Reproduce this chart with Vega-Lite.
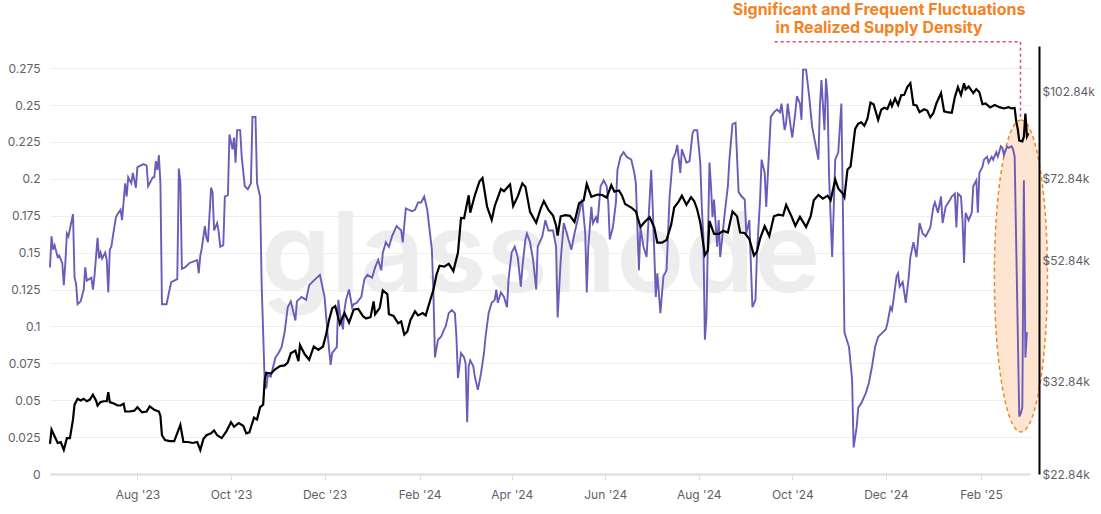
{
  "$schema": "https://vega.github.io/schema/vega-lite/v6.json",
  "width": 980,
  "height": 428,
  "autosize": {"type": "none"},
  "padding": {"left": 50, "top": 46, "right": 71, "bottom": 40},
  "background": "white",
  "config": {
    "view": {"stroke": null},
    "font": "Inter",
    "axis": {"labelFont": "Inter", "labelFontSize": 12, "labelColor": "#5f5f6a", "titleFont": "Inter"}
  },
  "datasets": {
    "ps": [
      {"d":"2023-06-05","v":0.140},{"d":"2023-06-06","v":0.161},{"d":"2023-06-07","v":0.152},{"d":"2023-06-08","v":0.155},{"d":"2023-06-10","v":0.147},{"d":"2023-06-11","v":0.148},{"d":"2023-06-13","v":0.143},{"d":"2023-06-14","v":0.128},{"d":"2023-06-15","v":0.143},{"d":"2023-06-16","v":0.163},{"d":"2023-06-17","v":0.161},{"d":"2023-06-20","v":0.176},{"d":"2023-06-21","v":0.133},{"d":"2023-06-22","v":0.129},{"d":"2023-06-23","v":0.115},{"d":"2023-06-25","v":0.117},{"d":"2023-06-26","v":0.121},{"d":"2023-06-27","v":0.125},{"d":"2023-06-28","v":0.140},{"d":"2023-06-29","v":0.131},
      {"d":"2023-07-02","v":0.133},{"d":"2023-07-03","v":0.125},{"d":"2023-07-04","v":0.134},{"d":"2023-07-06","v":0.160},{"d":"2023-07-07","v":0.146},{"d":"2023-07-08","v":0.150},{"d":"2023-07-09","v":0.146},{"d":"2023-07-11","v":0.150},{"d":"2023-07-12","v":0.145},{"d":"2023-07-13","v":0.123},{"d":"2023-07-14","v":0.152},{"d":"2023-07-15","v":0.154},{"d":"2023-07-16","v":0.161},{"d":"2023-07-18","v":0.174},{"d":"2023-07-19","v":0.176},{"d":"2023-07-21","v":0.179},{"d":"2023-07-22","v":0.172},{"d":"2023-07-24","v":0.197},{"d":"2023-07-25","v":0.188},{"d":"2023-07-26","v":0.201},{"d":"2023-07-28","v":0.197},{"d":"2023-07-29","v":0.204},{"d":"2023-07-31","v":0.194},
      {"d":"2023-08-01","v":0.208},{"d":"2023-08-05","v":0.210},{"d":"2023-08-07","v":0.209},{"d":"2023-08-08","v":0.195},{"d":"2023-08-11","v":0.201},{"d":"2023-08-12","v":0.201},{"d":"2023-08-13","v":0.212},{"d":"2023-08-14","v":0.206},{"d":"2023-08-15","v":0.216},{"d":"2023-08-16","v":0.197},{"d":"2023-08-17","v":0.115},{"d":"2023-08-20","v":0.115},{"d":"2023-08-22","v":0.125},{"d":"2023-08-23","v":0.130},{"d":"2023-08-27","v":0.132},{"d":"2023-08-28","v":0.207},{"d":"2023-08-29","v":0.198},{"d":"2023-08-30","v":0.139},
      {"d":"2023-09-01","v":0.140},{"d":"2023-09-04","v":0.143},{"d":"2023-09-09","v":0.145},{"d":"2023-09-10","v":0.136},{"d":"2023-09-11","v":0.148},{"d":"2023-09-12","v":0.153},{"d":"2023-09-14","v":0.168},{"d":"2023-09-15","v":0.160},{"d":"2023-09-16","v":0.157},{"d":"2023-09-18","v":0.194},{"d":"2023-09-19","v":0.191},{"d":"2023-09-20","v":0.165},{"d":"2023-09-22","v":0.170},{"d":"2023-09-23","v":0.164},{"d":"2023-09-24","v":0.154},{"d":"2023-09-26","v":0.155},{"d":"2023-09-27","v":0.188},{"d":"2023-09-29","v":0.189},{"d":"2023-09-30","v":0.230},
      {"d":"2023-10-01","v":0.225},{"d":"2023-10-02","v":0.220},{"d":"2023-10-03","v":0.228},{"d":"2023-10-04","v":0.211},{"d":"2023-10-05","v":0.233},{"d":"2023-10-07","v":0.233},{"d":"2023-10-08","v":0.215},{"d":"2023-10-10","v":0.195},{"d":"2023-10-12","v":0.193},{"d":"2023-10-14","v":0.197},{"d":"2023-10-15","v":0.242},{"d":"2023-10-17","v":0.242},{"d":"2023-10-18","v":0.197},{"d":"2023-10-20","v":0.188},{"d":"2023-10-21","v":0.129},{"d":"2023-10-23","v":0.062},{"d":"2023-10-24","v":0.058},{"d":"2023-10-25","v":0.067},{"d":"2023-10-27","v":0.066},{"d":"2023-10-30","v":0.079},
      {"d":"2023-11-01","v":0.082},{"d":"2023-11-03","v":0.086},{"d":"2023-11-05","v":0.096},{"d":"2023-11-07","v":0.113},{"d":"2023-11-09","v":0.117},{"d":"2023-11-12","v":0.104},{"d":"2023-11-13","v":0.117},{"d":"2023-11-16","v":0.120},{"d":"2023-11-19","v":0.118},{"d":"2023-11-21","v":0.128},{"d":"2023-11-23","v":0.130},{"d":"2023-11-25","v":0.132},{"d":"2023-11-28","v":0.135},
      {"d":"2023-12-01","v":0.120},{"d":"2023-12-03","v":0.095},{"d":"2023-12-05","v":0.074},{"d":"2023-12-06","v":0.082},{"d":"2023-12-09","v":0.086},{"d":"2023-12-10","v":0.118},{"d":"2023-12-11","v":0.109},{"d":"2023-12-13","v":0.098},{"d":"2023-12-14","v":0.111},{"d":"2023-12-15","v":0.118},{"d":"2023-12-17","v":0.125},{"d":"2023-12-19","v":0.113},{"d":"2023-12-20","v":0.115},{"d":"2023-12-22","v":0.116},{"d":"2023-12-25","v":0.120},{"d":"2023-12-27","v":0.132},{"d":"2023-12-29","v":0.135},
      {"d":"2024-01-01","v":0.133},{"d":"2024-01-03","v":0.140},{"d":"2024-01-05","v":0.145},{"d":"2024-01-07","v":0.138},{"d":"2024-01-08","v":0.150},{"d":"2024-01-10","v":0.157},{"d":"2024-01-12","v":0.154},{"d":"2024-01-14","v":0.161},{"d":"2024-01-17","v":0.168},{"d":"2024-01-20","v":0.165},{"d":"2024-01-21","v":0.157},{"d":"2024-01-23","v":0.180},{"d":"2024-01-27","v":0.178},{"d":"2024-01-29","v":0.179},{"d":"2024-01-31","v":0.184},
      {"d":"2024-02-02","v":0.184},{"d":"2024-02-04","v":0.188},{"d":"2024-02-06","v":0.179},{"d":"2024-02-09","v":0.152},{"d":"2024-02-10","v":0.123},{"d":"2024-02-11","v":0.079},{"d":"2024-02-13","v":0.091},{"d":"2024-02-15","v":0.093},{"d":"2024-02-17","v":0.098},{"d":"2024-02-18","v":0.100},{"d":"2024-02-20","v":0.109},{"d":"2024-02-22","v":0.111},{"d":"2024-02-24","v":0.109},{"d":"2024-02-25","v":0.093},{"d":"2024-02-26","v":0.065},{"d":"2024-02-28","v":0.082},
      {"d":"2024-03-01","v":0.079},{"d":"2024-03-02","v":0.075},{"d":"2024-03-03","v":0.035},{"d":"2024-03-04","v":0.073},{"d":"2024-03-05","v":0.077},{"d":"2024-03-07","v":0.073},{"d":"2024-03-08","v":0.066},{"d":"2024-03-10","v":0.057},{"d":"2024-03-12","v":0.068},{"d":"2024-03-14","v":0.082},{"d":"2024-03-15","v":0.093},{"d":"2024-03-17","v":0.109},{"d":"2024-03-19","v":0.116},{"d":"2024-03-21","v":0.118},{"d":"2024-03-22","v":0.125},{"d":"2024-03-23","v":0.116},{"d":"2024-03-25","v":0.123},{"d":"2024-03-27","v":0.120},{"d":"2024-03-29","v":0.113},{"d":"2024-03-30","v":0.132},
      {"d":"2024-04-01","v":0.150},{"d":"2024-04-03","v":0.154},{"d":"2024-04-05","v":0.147},{"d":"2024-04-07","v":0.127},{"d":"2024-04-08","v":0.140},{"d":"2024-04-10","v":0.159},{"d":"2024-04-11","v":0.163},{"d":"2024-04-13","v":0.157},{"d":"2024-04-15","v":0.145},{"d":"2024-04-17","v":0.125},{"d":"2024-04-18","v":0.154},{"d":"2024-04-21","v":0.161},{"d":"2024-04-23","v":0.172},{"d":"2024-04-25","v":0.165},{"d":"2024-04-28","v":0.165},{"d":"2024-04-30","v":0.154},
      {"d":"2024-05-01","v":0.106},{"d":"2024-05-03","v":0.145},{"d":"2024-05-05","v":0.170},{"d":"2024-05-07","v":0.163},{"d":"2024-05-08","v":0.159},{"d":"2024-05-10","v":0.152},{"d":"2024-05-12","v":0.163},{"d":"2024-05-14","v":0.172},{"d":"2024-05-17","v":0.186},{"d":"2024-05-19","v":0.163},{"d":"2024-05-20","v":0.123},{"d":"2024-05-21","v":0.154},{"d":"2024-05-23","v":0.181},{"d":"2024-05-24","v":0.170},{"d":"2024-05-26","v":0.174},{"d":"2024-05-27","v":0.170},{"d":"2024-05-29","v":0.195},{"d":"2024-05-31","v":0.199},
      {"d":"2024-06-02","v":0.195},{"d":"2024-06-03","v":0.184},{"d":"2024-06-04","v":0.159},{"d":"2024-06-06","v":0.167},{"d":"2024-06-08","v":0.184},{"d":"2024-06-09","v":0.206},{"d":"2024-06-11","v":0.215},{"d":"2024-06-13","v":0.218},{"d":"2024-06-15","v":0.215},{"d":"2024-06-18","v":0.213},{"d":"2024-06-20","v":0.204},{"d":"2024-06-21","v":0.197},{"d":"2024-06-23","v":0.138},{"d":"2024-06-24","v":0.167},{"d":"2024-06-26","v":0.154},{"d":"2024-06-28","v":0.147},{"d":"2024-06-29","v":0.167},
      {"d":"2024-07-01","v":0.206},{"d":"2024-07-02","v":0.181},{"d":"2024-07-04","v":0.120},{"d":"2024-07-05","v":0.136},{"d":"2024-07-07","v":0.109},{"d":"2024-07-09","v":0.134},{"d":"2024-07-11","v":0.138},{"d":"2024-07-13","v":0.188},{"d":"2024-07-15","v":0.213},{"d":"2024-07-17","v":0.218},{"d":"2024-07-18","v":0.223},{"d":"2024-07-20","v":0.204},{"d":"2024-07-21","v":0.220},{"d":"2024-07-24","v":0.211},{"d":"2024-07-26","v":0.212},{"d":"2024-07-28","v":0.231},{"d":"2024-07-29","v":0.233},{"d":"2024-07-31","v":0.233},
      {"d":"2024-08-02","v":0.211},{"d":"2024-08-03","v":0.181},{"d":"2024-08-04","v":0.161},{"d":"2024-08-05","v":0.091},{"d":"2024-08-06","v":0.106},{"d":"2024-08-08","v":0.211},{"d":"2024-08-09","v":0.195},{"d":"2024-08-10","v":0.174},{"d":"2024-08-11","v":0.186},{"d":"2024-08-13","v":0.154},{"d":"2024-08-14","v":0.172},{"d":"2024-08-15","v":0.147},{"d":"2024-08-17","v":0.167},{"d":"2024-08-18","v":0.177},{"d":"2024-08-20","v":0.195},{"d":"2024-08-21","v":0.213},{"d":"2024-08-23","v":0.237},{"d":"2024-08-25","v":0.238},{"d":"2024-08-27","v":0.191},{"d":"2024-08-29","v":0.188},{"d":"2024-08-31","v":0.186},
      {"d":"2024-09-01","v":0.163},{"d":"2024-09-03","v":0.172},{"d":"2024-09-05","v":0.113},{"d":"2024-09-07","v":0.118},{"d":"2024-09-08","v":0.150},{"d":"2024-09-10","v":0.186},{"d":"2024-09-11","v":0.213},{"d":"2024-09-13","v":0.204},{"d":"2024-09-14","v":0.181},{"d":"2024-09-17","v":0.242},{"d":"2024-09-19","v":0.245},{"d":"2024-09-21","v":0.247},{"d":"2024-09-23","v":0.245},{"d":"2024-09-24","v":0.251},{"d":"2024-09-26","v":0.233},{"d":"2024-09-27","v":0.238},{"d":"2024-09-28","v":0.251},{"d":"2024-09-30","v":0.235},
      {"d":"2024-10-01","v":0.228},{"d":"2024-10-03","v":0.245},{"d":"2024-10-04","v":0.256},{"d":"2024-10-06","v":0.251},{"d":"2024-10-07","v":0.240},{"d":"2024-10-08","v":0.274},{"d":"2024-10-10","v":0.274},{"d":"2024-10-12","v":0.256},{"d":"2024-10-13","v":0.245},{"d":"2024-10-14","v":0.235},{"d":"2024-10-16","v":0.224},{"d":"2024-10-18","v":0.213},{"d":"2024-10-19","v":0.249},{"d":"2024-10-20","v":0.267},{"d":"2024-10-22","v":0.233},{"d":"2024-10-23","v":0.268},{"d":"2024-10-24","v":0.254},{"d":"2024-10-25","v":0.201},{"d":"2024-10-27","v":0.147},{"d":"2024-10-28","v":0.179},{"d":"2024-10-29","v":0.213},{"d":"2024-10-31","v":0.218},
      {"d":"2024-11-01","v":0.235},{"d":"2024-11-02","v":0.251},{"d":"2024-11-03","v":0.180},{"d":"2024-11-04","v":0.096},{"d":"2024-11-07","v":0.086},{"d":"2024-11-09","v":0.064},{"d":"2024-11-10","v":0.018},{"d":"2024-11-12","v":0.032},{"d":"2024-11-13","v":0.045},{"d":"2024-11-15","v":0.048},{"d":"2024-11-18","v":0.055},{"d":"2024-11-20","v":0.062},{"d":"2024-11-22","v":0.073},{"d":"2024-11-24","v":0.086},{"d":"2024-11-26","v":0.093},{"d":"2024-11-29","v":0.096},
      {"d":"2024-12-01","v":0.098},{"d":"2024-12-02","v":0.102},{"d":"2024-12-04","v":0.113},{"d":"2024-12-05","v":0.111},{"d":"2024-12-06","v":0.118},{"d":"2024-12-08","v":0.134},{"d":"2024-12-09","v":0.136},{"d":"2024-12-10","v":0.127},{"d":"2024-12-12","v":0.130},{"d":"2024-12-14","v":0.116},{"d":"2024-12-16","v":0.134},{"d":"2024-12-17","v":0.147},{"d":"2024-12-19","v":0.157},{"d":"2024-12-21","v":0.147},{"d":"2024-12-23","v":0.170},{"d":"2024-12-25","v":0.163},{"d":"2024-12-27","v":0.161},{"d":"2024-12-30","v":0.167},
      {"d":"2025-01-01","v":0.181},{"d":"2025-01-02","v":0.184},{"d":"2025-01-04","v":0.177},{"d":"2025-01-06","v":0.188},{"d":"2025-01-07","v":0.170},{"d":"2025-01-09","v":0.181},{"d":"2025-01-12","v":0.186},{"d":"2025-01-13","v":0.188},{"d":"2025-01-15","v":0.190},{"d":"2025-01-16","v":0.167},{"d":"2025-01-17","v":0.190},{"d":"2025-01-19","v":0.188},{"d":"2025-01-20","v":0.172},{"d":"2025-01-21","v":0.143},{"d":"2025-01-22","v":0.177},{"d":"2025-01-24","v":0.172},{"d":"2025-01-26","v":0.177},{"d":"2025-01-27","v":0.195},{"d":"2025-01-29","v":0.199},{"d":"2025-01-30","v":0.177},{"d":"2025-01-31","v":0.204},
      {"d":"2025-02-02","v":0.208},{"d":"2025-02-03","v":0.213},{"d":"2025-02-05","v":0.215},{"d":"2025-02-06","v":0.211},{"d":"2025-02-08","v":0.215},{"d":"2025-02-09","v":0.213},{"d":"2025-02-11","v":0.218},{"d":"2025-02-12","v":0.215},{"d":"2025-02-14","v":0.222},{"d":"2025-02-15","v":0.221},{"d":"2025-02-16","v":0.216},{"d":"2025-02-18","v":0.222},{"d":"2025-02-19","v":0.221},{"d":"2025-02-21","v":0.222},{"d":"2025-02-22","v":0.220},{"d":"2025-02-23","v":0.215},{"d":"2025-02-26","v":0.039},{"d":"2025-02-27","v":0.041},{"d":"2025-02-28","v":0.045},{"d":"2025-03-01","v":0.199},{"d":"2025-03-02","v":0.079},{"d":"2025-03-03","v":0.096}
    ],
    "bk": [
      {"d":"2023-06-05","p":25700},{"d":"2023-06-06","p":27200},{"d":"2023-06-08","p":26500},{"d":"2023-06-10","p":25800},{"d":"2023-06-12","p":25900},{"d":"2023-06-14","p":25100},{"d":"2023-06-16","p":26300},{"d":"2023-06-18","p":26300},{"d":"2023-06-20","p":28300},{"d":"2023-06-21","p":30000},{"d":"2023-06-23","p":30700},{"d":"2023-06-25","p":30500},{"d":"2023-06-27","p":30700},{"d":"2023-06-29","p":30400},
      {"d":"2023-07-01","p":30600},{"d":"2023-07-03","p":31200},{"d":"2023-07-05","p":30500},{"d":"2023-07-06","p":29900},{"d":"2023-07-08","p":30300},{"d":"2023-07-10","p":30400},{"d":"2023-07-12","p":30400},{"d":"2023-07-13","p":31500},{"d":"2023-07-14","p":30300},{"d":"2023-07-17","p":30100},{"d":"2023-07-19","p":29900},{"d":"2023-07-21","p":29900},{"d":"2023-07-23","p":30100},{"d":"2023-07-24","p":29200},{"d":"2023-07-27","p":29200},{"d":"2023-07-30","p":29300},
      {"d":"2023-08-01","p":29700},{"d":"2023-08-04","p":29100},{"d":"2023-08-07","p":29200},{"d":"2023-08-09","p":29800},{"d":"2023-08-12","p":29400},{"d":"2023-08-15","p":29200},{"d":"2023-08-16","p":28700},{"d":"2023-08-17","p":26600},{"d":"2023-08-19","p":26100},{"d":"2023-08-22","p":26000},{"d":"2023-08-25","p":26000},{"d":"2023-08-29","p":27700},{"d":"2023-08-31","p":25900},
      {"d":"2023-09-03","p":25900},{"d":"2023-09-06","p":25800},{"d":"2023-09-09","p":25900},{"d":"2023-09-11","p":25100},{"d":"2023-09-13","p":26200},{"d":"2023-09-15","p":26600},{"d":"2023-09-18","p":26800},{"d":"2023-09-20","p":27100},{"d":"2023-09-22","p":26600},{"d":"2023-09-25","p":26300},{"d":"2023-09-28","p":27000},
      {"d":"2023-10-01","p":28000},{"d":"2023-10-03","p":27500},{"d":"2023-10-06","p":27900},{"d":"2023-10-09","p":27600},{"d":"2023-10-11","p":26800},{"d":"2023-10-13","p":26900},{"d":"2023-10-16","p":28500},{"d":"2023-10-18","p":28300},{"d":"2023-10-20","p":29700},{"d":"2023-10-22","p":30000},{"d":"2023-10-23","p":33000},{"d":"2023-10-24","p":34000},{"d":"2023-10-27","p":33900},{"d":"2023-10-30","p":34500},
      {"d":"2023-11-02","p":34900},{"d":"2023-11-05","p":35000},{"d":"2023-11-07","p":35400},{"d":"2023-11-09","p":36700},{"d":"2023-11-12","p":37100},{"d":"2023-11-14","p":35600},{"d":"2023-11-15","p":37900},{"d":"2023-11-18","p":36600},{"d":"2023-11-21","p":35800},{"d":"2023-11-24","p":37700},{"d":"2023-11-27","p":37200},{"d":"2023-11-30","p":37700},
      {"d":"2023-12-02","p":39500},{"d":"2023-12-04","p":41900},{"d":"2023-12-06","p":43800},{"d":"2023-12-08","p":44200},{"d":"2023-12-11","p":41200},{"d":"2023-12-14","p":43000},{"d":"2023-12-17","p":41400},{"d":"2023-12-20","p":43600},{"d":"2023-12-23","p":43700},{"d":"2023-12-26","p":42500},{"d":"2023-12-28","p":42100},{"d":"2023-12-31","p":42300},
      {"d":"2024-01-02","p":45000},{"d":"2024-01-03","p":42800},{"d":"2024-01-06","p":43900},{"d":"2024-01-08","p":47000},{"d":"2024-01-11","p":46300},{"d":"2024-01-12","p":42800},{"d":"2024-01-15","p":42500},{"d":"2024-01-18","p":41300},{"d":"2024-01-20","p":41600},{"d":"2024-01-22","p":39500},{"d":"2024-01-24","p":40000},{"d":"2024-01-26","p":41800},{"d":"2024-01-29","p":43300},{"d":"2024-01-31","p":42600},
      {"d":"2024-02-03","p":43000},{"d":"2024-02-05","p":42600},{"d":"2024-02-08","p":45300},{"d":"2024-02-10","p":47100},{"d":"2024-02-12","p":50000},{"d":"2024-02-14","p":51800},{"d":"2024-02-17","p":51600},{"d":"2024-02-20","p":52200},{"d":"2024-02-23","p":50700},{"d":"2024-02-26","p":54500},{"d":"2024-02-28","p":62500},
      {"d":"2024-03-01","p":62400},{"d":"2024-03-04","p":68300},{"d":"2024-03-05","p":63800},{"d":"2024-03-08","p":68300},{"d":"2024-03-11","p":72100},{"d":"2024-03-13","p":73100},{"d":"2024-03-16","p":65300},{"d":"2024-03-19","p":62000},{"d":"2024-03-21","p":65500},{"d":"2024-03-25","p":70000},{"d":"2024-03-27","p":69400},{"d":"2024-03-31","p":71300},
      {"d":"2024-04-02","p":65500},{"d":"2024-04-05","p":68000},{"d":"2024-04-08","p":71600},{"d":"2024-04-10","p":70600},{"d":"2024-04-13","p":64000},{"d":"2024-04-17","p":61300},{"d":"2024-04-20","p":64900},{"d":"2024-04-22","p":66800},{"d":"2024-04-25","p":64500},{"d":"2024-04-28","p":63100},{"d":"2024-04-30","p":60600},
      {"d":"2024-05-01","p":58300},{"d":"2024-05-03","p":62900},{"d":"2024-05-06","p":63200},{"d":"2024-05-09","p":63000},{"d":"2024-05-12","p":61500},{"d":"2024-05-15","p":66200},{"d":"2024-05-18","p":67000},{"d":"2024-05-20","p":71400},{"d":"2024-05-23","p":67900},{"d":"2024-05-27","p":68500},{"d":"2024-05-30","p":68400},
      {"d":"2024-06-02","p":67700},{"d":"2024-06-05","p":71100},{"d":"2024-06-07","p":69300},{"d":"2024-06-10","p":69600},{"d":"2024-06-12","p":68200},{"d":"2024-06-14","p":66000},{"d":"2024-06-18","p":65100},{"d":"2024-06-21","p":64100},{"d":"2024-06-24","p":60300},{"d":"2024-06-27","p":61600},{"d":"2024-06-30","p":62700},
      {"d":"2024-07-03","p":60200},{"d":"2024-07-05","p":56700},{"d":"2024-07-08","p":56700},{"d":"2024-07-11","p":57300},{"d":"2024-07-14","p":60800},{"d":"2024-07-16","p":65100},{"d":"2024-07-19","p":66700},{"d":"2024-07-21","p":68200},{"d":"2024-07-24","p":65800},{"d":"2024-07-27","p":67800},{"d":"2024-07-29","p":66800},{"d":"2024-07-31","p":64600},
      {"d":"2024-08-02","p":61400},{"d":"2024-08-05","p":54000},{"d":"2024-08-07","p":55000},{"d":"2024-08-08","p":61700},{"d":"2024-08-11","p":58700},{"d":"2024-08-14","p":58700},{"d":"2024-08-17","p":59400},{"d":"2024-08-20","p":59000},{"d":"2024-08-23","p":64100},{"d":"2024-08-26","p":62900},{"d":"2024-08-28","p":59000},{"d":"2024-08-31","p":58900},
      {"d":"2024-09-03","p":57500},{"d":"2024-09-06","p":53900},{"d":"2024-09-08","p":54800},{"d":"2024-09-10","p":57600},{"d":"2024-09-13","p":60500},{"d":"2024-09-16","p":58200},{"d":"2024-09-19","p":62900},{"d":"2024-09-22","p":63300},{"d":"2024-09-25","p":63100},{"d":"2024-09-27","p":65800},{"d":"2024-09-30","p":63300},
      {"d":"2024-10-03","p":60600},{"d":"2024-10-06","p":62800},{"d":"2024-10-10","p":60300},{"d":"2024-10-13","p":62900},{"d":"2024-10-15","p":67000},{"d":"2024-10-18","p":68400},{"d":"2024-10-21","p":67400},{"d":"2024-10-24","p":68200},{"d":"2024-10-26","p":67000},{"d":"2024-10-29","p":72700},{"d":"2024-10-31","p":70200},
      {"d":"2024-11-03","p":68700},{"d":"2024-11-04","p":67800},{"d":"2024-11-06","p":75600},{"d":"2024-11-08","p":76500},{"d":"2024-11-11","p":88700},{"d":"2024-11-13","p":90500},{"d":"2024-11-15","p":91000},{"d":"2024-11-17","p":89800},{"d":"2024-11-19","p":92300},{"d":"2024-11-21","p":98300},{"d":"2024-11-23","p":97700},{"d":"2024-11-26","p":91900},{"d":"2024-11-28","p":95600},{"d":"2024-11-30","p":96400},
      {"d":"2024-12-02","p":95900},{"d":"2024-12-04","p":98800},{"d":"2024-12-05","p":97000},{"d":"2024-12-07","p":99900},{"d":"2024-12-09","p":97400},{"d":"2024-12-11","p":101200},{"d":"2024-12-13","p":101400},{"d":"2024-12-15","p":104500},{"d":"2024-12-17","p":106100},{"d":"2024-12-19","p":97500},{"d":"2024-12-21","p":97200},{"d":"2024-12-23","p":94700},{"d":"2024-12-26","p":95800},{"d":"2024-12-28","p":95300},{"d":"2024-12-30","p":92800},
      {"d":"2025-01-01","p":94400},{"d":"2025-01-03","p":98100},{"d":"2025-01-06","p":102100},{"d":"2025-01-08","p":95000},{"d":"2025-01-10","p":94700},{"d":"2025-01-13","p":94500},{"d":"2025-01-15","p":100500},{"d":"2025-01-17","p":104500},{"d":"2025-01-19","p":101300},{"d":"2025-01-21","p":106100},{"d":"2025-01-22","p":103600},{"d":"2025-01-24","p":104800},{"d":"2025-01-27","p":102100},{"d":"2025-01-29","p":103700},{"d":"2025-01-31","p":102400},
      {"d":"2025-02-02","p":97700},{"d":"2025-02-04","p":98000},{"d":"2025-02-07","p":96500},{"d":"2025-02-10","p":97400},{"d":"2025-02-13","p":96600},{"d":"2025-02-16","p":96100},{"d":"2025-02-19","p":96600},{"d":"2025-02-21","p":96100},{"d":"2025-02-23","p":96300},{"d":"2025-02-24","p":91400},{"d":"2025-02-25","p":88700},{"d":"2025-02-26","p":84700},{"d":"2025-02-28","p":84400},{"d":"2025-03-01","p":86000},{"d":"2025-03-02","p":94200},{"d":"2025-03-03","p":86100},{"d":"2025-03-04","p":87200}
    ],
    "notes": [
      {"d":"2024-11-26T14:00:00Z","v":0.3146,"t":"Significant and Frequent Fluctuations"},
      {"d":"2024-11-26T14:00:00Z","v":0.3024,"t":"in Realized Supply Density"}
    ],
    "rules": [
      {"d":"2024-09-19T12:00:00Z","b":"2025-02-26T19:00:00Z","v":0.2929,"v2":0.2929},
      {"d":"2025-02-26T19:00:00Z","b":"2025-02-26T19:00:00Z","v":0.2929,"v2":0.2414}
    ],
    "oval": [{"d":"2025-02-27T02:00:00Z","v":0.1342}],
    "wm": [{"d":"2024-04-20","v":0.1234,"t":"glassnode"}]
  },
  "encoding": {
    "x": {"field": "d", "type": "temporal", "title": null,
      "scale": {"type": "utc", "domain": [{"year": 2023, "month": 6, "date": 5, "utc": true}, {"year": 2025, "month": 3, "date": 5, "utc": true}]},
      "axis": {"values": [
        {"year": 2023, "month": 8, "date": 1, "utc": true}, {"year": 2023, "month": 10, "date": 1, "utc": true}, {"year": 2023, "month": 12, "date": 1, "utc": true},
        {"year": 2024, "month": 2, "date": 1, "utc": true}, {"year": 2024, "month": 4, "date": 1, "utc": true}, {"year": 2024, "month": 6, "date": 1, "utc": true},
        {"year": 2024, "month": 8, "date": 1, "utc": true}, {"year": 2024, "month": 10, "date": 1, "utc": true}, {"year": 2024, "month": 12, "date": 1, "utc": true},
        {"year": 2025, "month": 2, "date": 1, "utc": true}],
        "labelExpr": "utcFormat(datum.value, \"%b '%y\")", "grid": false, "domainColor": "#dcdcdc", "domainWidth": 2, "tickColor": "#e2e2e2", "tickSize": 6, "labelPadding": 9, "labelFlush": false, "labelOverlap": false, "title": null}
    }
  },
  "layer": [
    {
      "encoding": {
        "y": {"field": "v", "type": "quantitative", "title": null,
          "scale": {"domain": [0, 0.29]},
          "axis": {"values": [0, 0.025, 0.05, 0.075, 0.1, 0.125, 0.15, 0.175, 0.2, 0.225, 0.25, 0.275], "format": ".3~f", "grid": true, "gridColor": "#efefef", "domain": false, "ticks": false, "labelPadding": 10, "title": null}
        }
      },
      "layer": [
        {
          "data": {"name": "wm"},
          "mark": {"type": "text", "fontSize": 112, "fontWeight": 600, "color": "#ededed", "align": "center", "baseline": "alphabetic", "font": "Inter"},
          "encoding": {"text": {"field": "t"}}
        },
        {
          "data": {"name": "oval"},
          "mark": {"type": "point", "shape": "M0,-1C0.0939,-1 0.17,-0.5523 0.17,0C0.17,0.5523 0.0939,1 0,1C-0.0939,1 -0.17,0.5523 -0.17,0C-0.17,-0.5523 -0.0939,-1 0,-1Z", "size": 97344, "filled": true, "fill": "#fde5d1", "fillOpacity": 1, "stroke": "#ee8a2e", "strokeOpacity": 1, "strokeWidth": 1.5, "strokeDash": [4, 3], "opacity": 1},
          "encoding": {}
        },
        {
          "data": {"name": "ps"},
          "mark": {"type": "line", "color": "#6a5cb8", "strokeWidth": 1.9},
          "encoding": {}
        },
        {
          "data": {"name": "notes"},
          "mark": {"type": "text", "fontSize": 16, "fontWeight": "bold", "color": "#f5821f", "align": "center", "baseline": "middle", "font": "Inter"},
          "encoding": {"text": {"field": "t"}}
        },
        {
          "data": {"name": "rules"},
          "mark": {"type": "rule", "color": "#e2457e", "strokeWidth": 1.5, "strokeDash": [3, 3]},
          "encoding": {"x2": {"field": "b"}, "y2": {"field": "v2"}}
        }
      ]
    },
    {
      "data": {"name": "bk"},
      "mark": {"type": "line", "color": "#000000", "strokeWidth": 2.2},
      "encoding": {
        "y": {"field": "p", "type": "quantitative", "title": null,
          "scale": {"type": "log", "domain": [22840, 122840]},
          "axis": {"orient": "right", "values": [22840, 32840, 52840, 72840, 102840], "labelExpr": "'$' + format(datum.value / 1000, '.2f') + 'k'", "offset": 9, "domain": true, "domainColor": "#000000", "domainWidth": 2, "ticks": false, "grid": false, "labelPadding": 3, "title": null, "zindex": 1}
        }
      }
    }
  ],
  "resolve": {"scale": {"y": "independent"}}
}
